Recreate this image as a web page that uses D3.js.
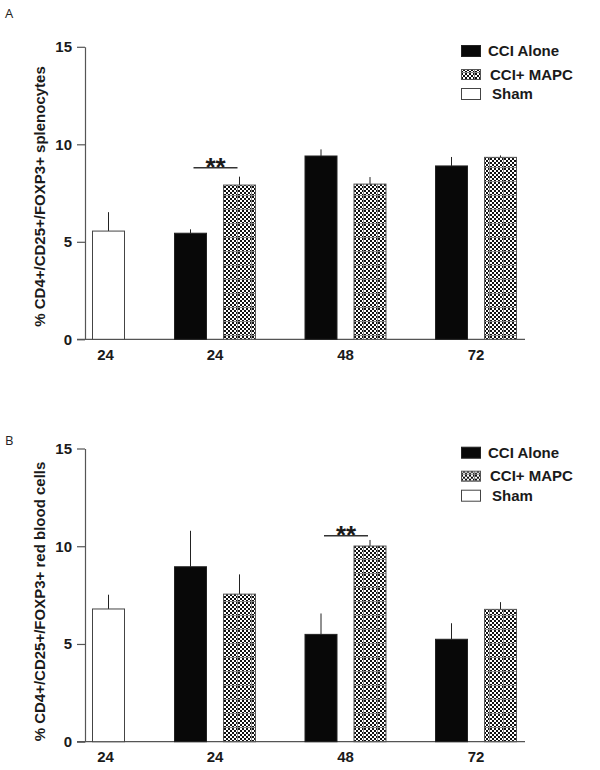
<!DOCTYPE html>
<html>
<head>
<meta charset="utf-8">
<script src="https://cdn.jsdelivr.net/npm/d3@7"></script>
<style>
  html, body { margin: 0; padding: 0; background: #fff; }
  svg { display: block; }
  text { font-family: Arial, "Liberation Sans", sans-serif; fill: #1a1a1a; }
</style>
</head>
<body>
<svg id="chart" width="600" height="770"></svg>
<script>
// ---------- data ----------
const groupLabels = ["24", "24", "48", "72"];          // Sham 24, then CCI groups 24/48/72
const cciGroups = ["24", "48", "72"];
const seriesNames = ["CCI Alone", "CCI+ MAPC", "Sham"];
const yTicks = [0, 5, 10, 15];

// Panel A: % CD4+/CD25+/FOXP3+ splenocytes
const shamA = 5.55, shamAErr = 0.97;
const cciAloneA = [5.44, 9.40, 8.89];
const cciAloneAErr = [0.20, 0.34, 0.46];
const cciMapcA = [7.91, 7.96, 9.33];
const cciMapcAErr = [0.43, 0.36, 0.10];
const sigA = { group: "24", level: 8.8, label: "**" };

// Panel B: % CD4+/CD25+/FOXP3+ red blood cells
const shamB = 6.79, shamBErr = 0.73;
const cciAloneB = [8.95, 5.49, 5.24];
const cciAloneBErr = [1.84, 1.07, 0.82];
const cciMapcB = [7.55, 10.01, 6.77];
const cciMapcBErr = [1.01, 0.31, 0.37];
const sigB = { group: "48", level: 10.54, label: "**" };

// ---------- drawing ----------
const svg = d3.select("#chart");
const defs = svg.append("defs");
const pat = defs.append("pattern")
  .attr("id", "checker").attr("patternUnits", "userSpaceOnUse")
  .attr("width", 14).attr("height", 14);
pat.append("rect").attr("width", 14).attr("height", 14).attr("fill", "#fff");
for (let i = 0; i < 7; i++) for (let j = 0; j < 7; j++) {
  if ((i + j) % 2 === 0) pat.append("rect").attr("x", i * 2).attr("y", j * 2)
    .attr("width", 2).attr("height", 2).attr("fill", "#111");
}
pat.append("rect").attr("x", 0).attr("y", 13).attr("width", 14).attr("height", 1).attr("fill", "#888");
pat.append("rect").attr("x", 13).attr("y", 0).attr("width", 1).attr("height", 14).attr("fill", "#888");

const fills = { "CCI Alone": "#080808", "CCI+ MAPC": "url(#checker)", "Sham": "#fff" };
const strokes = { "CCI Alone": "#222", "CCI+ MAPC": "#555", "Sham": "#444" };

const axisX = 85, axisRight = 525;
const barW = 33;
// group centers: CCI groups on a band scale, sham placed before the first group
const xGroup = d3.scalePoint().domain(cciGroups).range([215, 476]);
const shamCenter = 108.5;
const pairOffset = 24.5;

function drawPanel(cfg) {
  const g = svg.append("g");
  const y = d3.scaleLinear().domain([0, 15]).range([cfg.bottom, cfg.top]);

  // panel letter
  g.append("text").attr("x", 5).attr("y", cfg.letterY)
    .style("font-family", "'Open Sans', Arial, sans-serif")
    .style("font-size", "13px").style("fill", "#222").text(cfg.letter);

  // y axis
  const ya = g.append("g").attr("transform", `translate(${axisX},0)`)
    .call(d3.axisLeft(y).tickValues(yTicks).tickSize(8).tickSizeOuter(0).tickPadding(5));
  ya.select(".domain").attr("stroke", "#555").attr("stroke-width", 1.2);
  ya.selectAll(".tick line").attr("stroke", "#555").attr("stroke-width", 1.2);
  ya.selectAll(".tick text").style("font-size", "15px").style("font-weight", "bold")
    .style("font-family", "Arial, 'Liberation Sans', sans-serif").attr("fill", "#1a1a1a");

  // x axis line
  g.append("line").attr("x1", axisX - 8).attr("x2", axisRight)
    .attr("y1", y(0)).attr("y2", y(0)).attr("stroke", "#555").attr("stroke-width", 1.2);

  // y label
  g.append("text")
    .attr("transform", `translate(45,${cfg.labelCY}) rotate(-90)`)
    .attr("text-anchor", "middle")
    .style("font-size", "15px").style("font-weight", "bold")
    .text(cfg.ylabel);

  // bars
  const bars = [];
  bars.push({ series: "Sham", cx: shamCenter, v: cfg.sham, e: cfg.shamErr });
  cciGroups.forEach((gr, i) => {
    bars.push({ series: "CCI Alone", cx: xGroup(gr) - pairOffset, v: cfg.cci[i], e: cfg.cciErr[i] });
    bars.push({ series: "CCI+ MAPC", cx: xGroup(gr) + pairOffset, v: cfg.mapc[i], e: cfg.mapcErr[i] });
  });

  g.selectAll(".err").data(bars).enter().append("line")
    .attr("x1", d => d.cx).attr("x2", d => d.cx)
    .attr("y1", d => y(d.v)).attr("y2", d => y(d.v + d.e))
    .attr("stroke", "#222").attr("stroke-width", 1);

  g.selectAll(".bar").data(bars).enter().append("rect")
    .attr("x", d => d.cx - barW / 2 + 0.5).attr("width", barW - 1)
    .attr("y", d => y(d.v)).attr("height", d => y(0) - y(d.v))
    .attr("fill", d => fills[d.series]).attr("stroke", d => strokes[d.series])
    .attr("stroke-width", 1);

  // x labels
  const labelPos = [shamCenter - 3].concat(cciGroups.map(gr => xGroup(gr)));
  g.selectAll(".xl").data(groupLabels).enter().append("text")
    .attr("x", (d, i) => labelPos[i]).attr("y", y(0) + 20.5)
    .attr("text-anchor", "middle")
    .style("font-size", "15px").style("font-weight", "bold").text(d => d);

  // significance
  const s = cfg.sig;
  const sx1 = xGroup(s.group) - pairOffset + 3, sx2 = xGroup(s.group) + pairOffset - 2;
  g.append("line").attr("x1", sx1).attr("x2", sx2)
    .attr("y1", y(s.level)).attr("y2", y(s.level))
    .attr("stroke", "#333").attr("stroke-width", 1.5);
  g.append("text").attr("x", (sx1 + sx2) / 2).attr("y", y(s.level) + 8)
    .attr("text-anchor", "middle")
    .style("font-size", "26px").style("font-weight", "bold").text(s.label);

  // legend
  const lg = g.append("g").attr("transform", `translate(461,${cfg.legendTop})`);
  const lgOffsets = [0, 24, 43];
  const txtX = [27, 29, 31];
  seriesNames.forEach((name, i) => {
    const h = name === "CCI+ MAPC" ? 10 : 11;
    lg.append("rect").attr("x", 0.5).attr("y", lgOffsets[i] + 0.5)
      .attr("width", 19).attr("height", h)
      .attr("fill", fills[name]).attr("stroke", strokes[name]).attr("stroke-width", 1);
    lg.append("text").attr("x", txtX[i]).attr("y", lgOffsets[i] + h / 2 + 5.5)
      .style("font-size", "15px").style("font-weight", "bold").text(name);
  });
}

drawPanel({
  letter: "A", letterY: 18, top: 46.8, bottom: 339.3, labelCY: 196.5,
  ylabel: "% CD4+/CD25+/FOXP3+ splenocytes",
  sham: shamA, shamErr: shamAErr, cci: cciAloneA, cciErr: cciAloneAErr,
  mapc: cciMapcA, mapcErr: cciMapcAErr, sig: sigA, legendTop: 45
});
drawPanel({
  letter: "B", letterY: 445, top: 448.5, bottom: 741.7, labelCY: 601.5,
  ylabel: "% CD4+/CD25+/FOXP3+ red blood cells",
  sham: shamB, shamErr: shamBErr, cci: cciAloneB, cciErr: cciAloneBErr,
  mapc: cciMapcB, mapcErr: cciMapcBErr, sig: sigB, legendTop: 446.7
});
</script>
</body>
</html>
